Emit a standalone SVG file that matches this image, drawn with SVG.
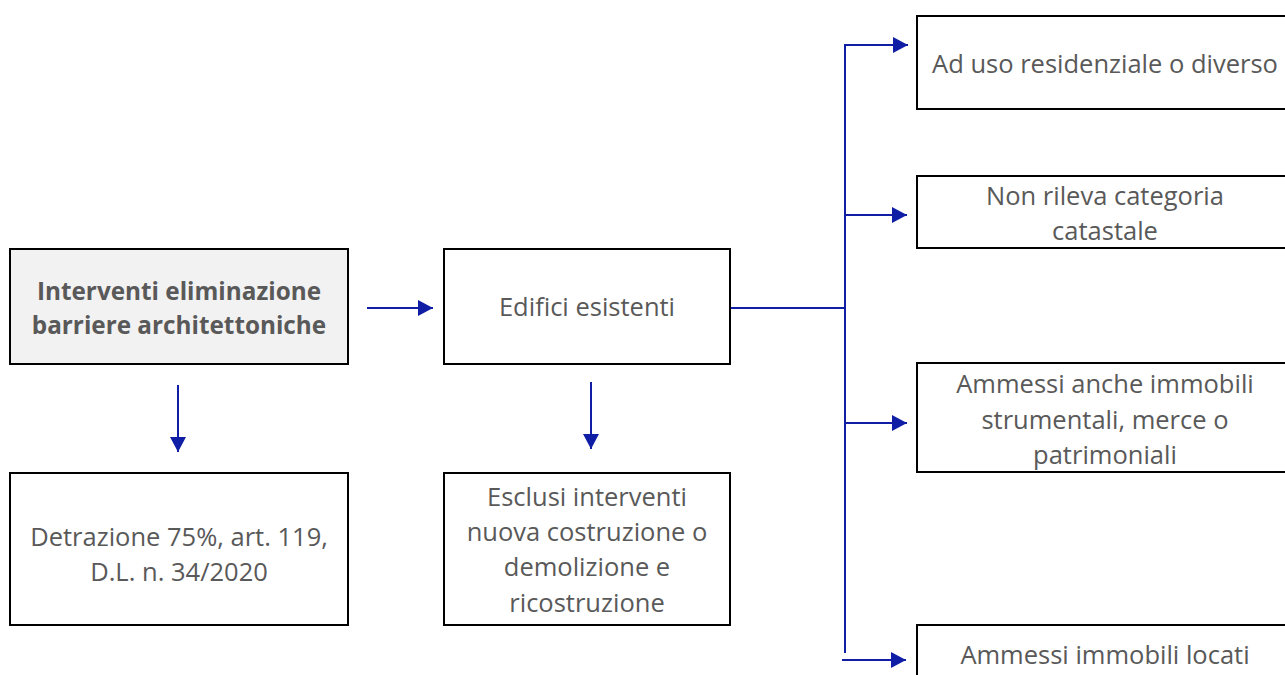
<svg xmlns="http://www.w3.org/2000/svg" width="1285" height="675" viewBox="0 0 1285 675">
<style>
.box{fill:#ffffff;stroke:#000000;stroke-width:2}
.grey{fill:#f2f2f2}
.t{font-family:"Open Sans","Liberation Sans",sans-serif;font-size:25.5px;fill:#595959;text-anchor:middle}
.b{font-weight:bold;font-size:24.3px}
.c{fill:none;stroke:#0f1ea5;stroke-width:2}
</style>
<defs>
<marker id="ah" viewBox="0 0 15 16" refX="15" refY="8" markerWidth="15" markerHeight="16" markerUnits="userSpaceOnUse" orient="auto">
<path d="M0,0 L15,8 L0,16 Z" fill="#0f1ea5"/>
</marker>
</defs>
<rect width="1285" height="675" fill="#ffffff"/>
<g id="connectors">
<line class="c" x1="367" y1="308" x2="433" y2="308" marker-end="url(#ah)"/>
<line class="c" x1="178" y1="385" x2="178" y2="452" marker-end="url(#ah)"/>
<line class="c" x1="591" y1="382" x2="591" y2="449" marker-end="url(#ah)"/>
<polyline class="c" points="730,308 845,308"/>
<line class="c" x1="845" y1="45" x2="845" y2="653"/>
<line class="c" x1="844" y1="45" x2="908" y2="45" marker-end="url(#ah)"/>
<line class="c" x1="845" y1="215" x2="907" y2="215" marker-end="url(#ah)"/>
<line class="c" x1="845" y1="423" x2="907" y2="423" marker-end="url(#ah)"/>
<line class="c" x1="842" y1="660" x2="906" y2="660" marker-end="url(#ah)"/>
</g>
<g id="n1">
<rect class="box grey" x="10" y="249" width="338" height="115"/>
<text class="t b" x="179" y="300">Interventi eliminazione</text>
<text class="t b" x="179" y="334">barriere architettoniche</text>
</g>
<g id="n2">
<rect class="box" x="444" y="249" width="286" height="115"/>
<text class="t" x="587" y="316">Edifici esistenti</text>
</g>
<g id="n3">
<rect class="box" x="10" y="473" width="338" height="152"/>
<text class="t" x="179" y="546">Detrazione 75%, art. 119,</text>
<text class="t" x="179" y="581">D.L. n. 34/2020</text>
</g>
<g id="n4">
<rect class="box" x="444" y="473" width="286" height="152"/>
<text class="t" x="587" y="506">Esclusi interventi</text>
<text class="t" x="587" y="541">nuova costruzione o</text>
<text class="t" x="587" y="576">demolizione e</text>
<text class="t" x="587" y="612">ricostruzione</text>
</g>
<g id="n5">
<rect class="box" x="917" y="16" width="376" height="93"/>
<text class="t" x="1105" y="73">Ad uso residenziale o diverso</text>
</g>
<g id="n6">
<rect class="box" x="917" y="176" width="376" height="72"/>
<text class="t" x="1105" y="205">Non rileva categoria</text>
<text class="t" x="1105" y="240">catastale</text>
</g>
<g id="n7">
<rect class="box" x="917" y="363" width="376" height="109"/>
<text class="t" x="1105" y="393">Ammessi anche immobili</text>
<text class="t" x="1105" y="429">strumentali, merce o</text>
<text class="t" x="1105" y="464">patrimoniali</text>
</g>
<g id="n8">
<rect class="box" x="917" y="625" width="376" height="70"/>
<text class="t" x="1105" y="664">Ammessi immobili locati</text>
</g>
</svg>
